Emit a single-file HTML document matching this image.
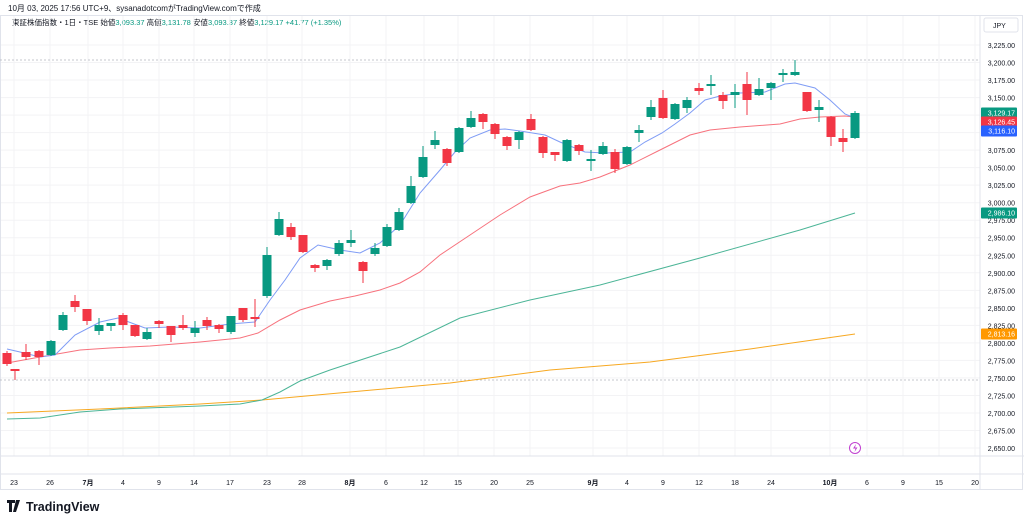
<!DOCTYPE html><html><head><meta charset="utf-8"><style>
body{margin:0;background:#fff;width:1024px;height:524px;overflow:hidden;font-family:"Liberation Sans","Noto Sans CJK JP",sans-serif}
</style></head><body>
<svg id="s" width="1024" height="524" xmlns="http://www.w3.org/2000/svg" font-family="Liberation Sans, Noto Sans CJK JP, sans-serif">
<text x="8" y="11" font-size="8" fill="#131722">10月 03, 2025 17:56 UTC+9、sysanadotcomがTradingView.comで作成</text>
<text x="12" y="25" font-size="7.5" fill="#131722">東証株価指数・1日・TSE <tspan>始値</tspan><tspan fill="#089981">3,093.37</tspan> 高値<tspan fill="#089981">3,131.78</tspan> 安値<tspan fill="#089981">3,093.37</tspan> 終値<tspan fill="#089981">3,129.17 +41.77 (+1.35%)</tspan></text>
<g id="g"></g>
<text x="820" y="523" font-size="1" fill="#fff"></text>
<text x="26" y="511" font-size="12.5" font-weight="bold" fill="#131722">TradingView</text>
<path d="M7 500h8v3h-3v9h-3v-9h-2zM16 500h4l-4 12h-3z" fill="#131722"/>
</svg>
<script>
const g=document.getElementById('g');let h='';
const Y=p=>45+(3225-p)*0.7009;
// grid
const xs=[14,50,88,123,159,194,230,267,302,350,386,424,458,494,530,593,627,663,699,735,771,830,867,903,939,975];
const xl=['23','26','7月','4','9','14','17','23','28','8月','6','12','15','20','25','9月','4','9','12','18','24','10月','6','9','15','20'];
for(let p=2650;p<=3225;p+=25){let y=Y(p);h+=`<line x1="0" x2="980" y1="${y}" y2="${y}" stroke="#f3f3f5"/>`;
h+=`<text x="1015" y="${y+3}" font-size="7" fill="#131722" text-anchor="end">${p.toLocaleString('en-US')}.00</text>`;}
xs.forEach((x,i)=>{h+=`<line x1="${x}" x2="${x}" y1="15" y2="456" stroke="#f3f3f5"/>`;
h+=`<text x="${x}" y="485" font-size="7" fill="#131722" text-anchor="middle" ${/月/.test(xl[i])?'font-weight="bold"':''}>${xl[i]}</text>`});
h+=`<rect x="0.5" y="15.5" width="1022" height="474" fill="none" stroke="#e0e3eb"/>`;
h+=`<line x1="980" x2="980" y1="15" y2="490" stroke="#e0e3eb"/><line x1="0" x2="1024" y1="456" y2="456" stroke="#e0e3eb"/><line x1="0" x2="1024" y1="474" y2="474" stroke="#e0e3eb"/>`;
h+=`<rect x="984" y="18" width="34" height="14" rx="2" fill="#fff" stroke="#e0e3eb"/><text x="993" y="28" font-size="7" fill="#131722">JPY</text>`;
h+=`<line x1="0" x2="980" y1="60" y2="60" stroke="#b2b5be" stroke-dasharray="2,2" stroke-width=".7"/><line x1="0" x2="980" y1="380" y2="380" stroke="#b2b5be" stroke-dasharray="2,2" stroke-width=".7"/>`;
const pl=(pts,c)=>{h+=`<polyline fill="none" stroke="${c}" stroke-width="1" points="${pts.map(p=>p.join(',')).join(' ')}"/>`};
pl([[7,413],[100,409],[200,404],[262,400],[350,392],[450,383],[550,370],[650,362],[750,349],[855,334]],'#f7a821');
pl([[7,419],[40,418],[80,412],[120,409],[200,406],[240,404],[262,400],[280,392],[300,381],[330,370],[400,347],[460,318],[530,300],[600,285],[700,258],[800,230],[855,213]],'#4cb597');
pl([[7,363],[40,357],[80,350],[110,348],[150,346],[200,342],[240,338],[258,333],[280,320],[300,310],[330,301],[355,296],[380,290],[400,283],[420,272],[440,255],[470,235],[500,215],[530,197],[560,186],[580,183],[600,177],[630,165],[660,150],[690,135],[710,130],[740,127],[780,124],[800,119],[820,117],[845,116],[855,117]],'#f7727d');
pl([[7,349],[20,352],[40,357],[55,355],[75,335],[100,322],[118,318],[145,328],[170,327],[200,328],[230,324],[255,322],[270,300],[285,280],[300,258],[318,245],[340,250],[360,253],[380,243],[400,225],[420,193],[440,170],[455,152],[470,138],[490,130],[505,129],[520,131],[545,135],[560,142],[585,152],[605,153],[630,152],[645,142],[662,133],[675,124],[690,113],[705,100],[720,96],[740,93],[765,92],[785,84],[795,83],[815,88],[830,100],[845,114],[855,118]],'#7f9cf5');
// x, top, bot, high, low, up
const C=[[7,353,364,351,366,0],[15,369,371,369,380,0],[26,352,357,344,360,0],[39,351,357,350,365,0],[51,341,355,340,356,1],[63,315,330,312,331,1],[75,301,307,295,312,0],[87,309,321,309,325,0],[99,325,331,318,335,1],[111,323,326,323,331,1],[123,315,325,313,330,0],[135,325,336,325,337,0],[147,332,339,328,340,1],[159,321,324,320,328,0],[171,326,335,326,342,0],[183,325,328,315,330,0],[195,328,333,321,337,1],[207,320,326,317,330,0],[219,325,329,324,333,0],[231,316,332,316,334,1],[243,308,320,308,322,0],[255,317,319,299,327,0],[267,255,296,247,298,1],[279,219,235,212,236,1],[291,227,237,223,240,0],[303,235,252,235,253,0],[315,265,268,264,272,0],[327,260,266,259,270,1],[339,243,254,240,256,1],[351,240,243,230,247,1],[363,262,271,261,283,0],[375,248,254,243,256,1],[387,227,246,224,247,1],[399,212,230,208,231,1],[411,186,203,176,204,1],[423,157,177,146,178,1],[435,140,145,131,149,1],[447,149,163,148,166,0],[459,128,152,127,153,1],[471,118,127,111,128,1],[483,114,122,113,129,0],[495,124,134,123,139,0],[507,137,146,136,150,0],[519,132,140,131,149,1],[531,119,130,114,131,0],[543,137,153,136,158,0],[555,152,155,152,161,0],[567,140,161,139,162,1],[579,145,151,144,155,0],[591,159,161,150,171,1],[603,146,154,142,155,1],[615,152,169,149,173,0],[627,147,164,146,165,1],[639,130,133,125,142,1],[651,107,117,100,120,1],[663,98,118,90,119,0],[675,104,119,103,120,1],[687,100,108,97,113,1],[699,88,91,83,95,0],[711,84,86,75,95,1],[723,95,101,92,109,0],[735,92,95,84,108,1],[747,84,100,72,115,0],[759,89,95,78,96,1],[771,83,88,82,100,1],[783,73,75,69,82,1],[795,72,75,60,76,1],[807,92,111,92,112,0],[819,107,110,100,122,1],[831,117,137,116,146,0],[843,138,142,129,152,0],[855,113,138,111,139,1]];
C.forEach(c=>{const col=c[5]?'#089981':'#f23645';h+=`<line x1="${c[0]}" x2="${c[0]}" y1="${c[3]}" y2="${c[4]}" stroke="${col}"/><rect x="${c[0]-4.5}" y="${c[1]}" width="9" height="${Math.max(1.5,c[2]-c[1])}" fill="${col}"/>`});
const tag=(y,t,c)=>{h+=`<rect x="981" y="${y-5.5}" width="36" height="11" rx="1" fill="${c}"/><text x="1015" y="${y+2.5}" font-size="7" fill="#fff" text-anchor="end">${t}</text>`};
tag(113,'3,129.17','#089981');tag(122,'3,126.45','#f23645');tag(131,'3,116.10','#2962ff');tag(213,'2,986.10','#089981');tag(334,'2,813.16','#ff9800');
h+=`<circle cx="855" cy="448" r="5.5" fill="#fff" stroke="#c040d0"/><path d="M856 444l-3 4.5h2.5l-1 3.5 3-4.5h-2.5z" fill="#c040d0"/>`;
g.innerHTML=h;
</script>
</body></html>
